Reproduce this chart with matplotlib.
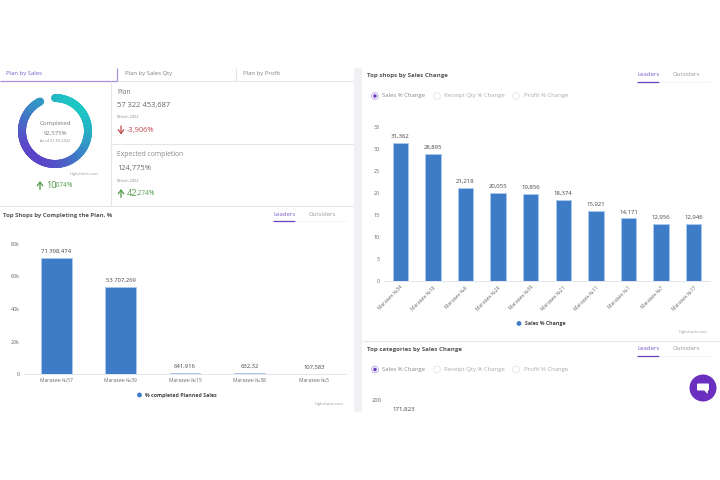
# -*- coding: utf-8 -*-
import numpy as np
import matplotlib.pyplot as plt
from matplotlib.collections import LineCollection
from matplotlib.patches import Circle, Polygon, Rectangle, FancyBboxPatch

plt.rcParams["font.family"] = ["Open Sans", "DejaVu Sans"]

BLUE = "#3e7cc8"
PURPLE = "#6b3fc0"
GREY = "#666666"
LIGHT = "#e6e6ea"

plan_shops = ["Магазин №57", "Магазин №39", "Магазин №15", "Магазин №38", "Магазин №5"]
plan_values = [71398.474, 53707.269, 641.916, 632.32, 107.583]
plan_labels = ["71 398,474", "53 707,269", "641,916", "632,32", "107,583"]
plan_ticks = [0, 20000, 40000, 60000, 80000]
plan_ticklabels = ["0", "20k", "40k", "60k", "80k"]

change_shops = ["Магазин №34", "Магазин №16", "Магазин №6", "Магазин №29", "Магазин №39",
                "Магазин №21", "Магазин №11", "Магазин №1", "Магазин №7", "Магазин №17"]
change_values = [31.362, 28.895, 21.218, 20.055, 19.856, 18.374, 15.921, 14.171, 12.956, 12.946]
change_labels = ["31,362", "28,895", "21,218", "20,055", "19,856", "18,374", "15,921", "14,171", "12,956", "12,946"]
change_ticks = [0, 5, 10, 15, 20, 25, 30, 35]

completed = 92.575
tabs = ["Plan by Sales", "Plan by Sales Qty", "Plan by Profit"]
radio_options = ["Sales % Change", "Receipt Qty % Change", "Profit % Change"]


def px_axes(fig, left, top, right, bottom):
    return fig.add_axes([left / 720, 1 - bottom / 480, (right - left) / 720, (bottom - top) / 480])


def bar_chart(ax, values, labels, ticks, ticklabels, cats, width, rotate, label_size):
    x = np.arange(len(values))
    ax.bar(x, values, width=width, color=BLUE, edgecolor="#a9c9ee", linewidth=0.6)
    ax.set_xlim(-0.5, len(values) - 0.5)
    ax.set_ylim(0, ticks[-1])
    ax.set_yticks(ticks)
    ax.set_yticklabels(ticklabels, fontsize=3.9, color=GREY)
    ax.set_xticks(x)
    if rotate:
        ax.set_xticklabels(cats, fontsize=3.5, color=GREY, rotation=45, ha="right", rotation_mode="anchor")
    else:
        ax.set_xticklabels(cats, fontsize=3.6, color=GREY)
    ax.tick_params(length=0, pad=3)
    for s in ["top", "left", "right"]:
        ax.spines[s].set_visible(False)
    ax.spines["bottom"].set_color(LIGHT)
    ax.spines["bottom"].set_linewidth(0.7)
    for xi, v, t in zip(x, values, labels):
        ax.annotate(t, (xi, v), xytext=(0, 3), textcoords="offset points", ha="center", va="bottom",
                    fontsize=label_size, color="#444444")


fig = plt.figure(figsize=(7.2, 4.8), dpi=100)

# page overlay in pixel coords
bg = fig.add_axes([0, 0, 1, 1])
bg.set_xlim(0, 720)
bg.set_ylim(480, 0)
bg.axis("off")


def hline(y, x0, x1, c=LIGHT, lw=0.8):
    bg.plot([x0, x1], [y, y], color=c, lw=lw, solid_capstyle="butt")


def vline(x, y0, y1, c=LIGHT, lw=0.8):
    bg.plot([x, x], [y0, y1], color=c, lw=lw, solid_capstyle="butt")


def txt(x, y, s, size=5, color=GREY, **kw):
    kw.setdefault("va", "center")
    bg.text(x, y, s, fontsize=size, color=color, **kw)


def arrow(x, y_from, y_to, color):
    bg.annotate("", (x, y_to), (x, y_from),
                arrowprops=dict(arrowstyle="->,head_width=0.22,head_length=0.3", color=color, lw=0.9,
                                shrinkA=0, shrinkB=0, mutation_scale=9))


bg.add_patch(Rectangle((354, 68), 8, 344, color="#f1f1f5", lw=0))

# tabs
for x, t, c in zip([6, 125, 243], tabs, ["#7a5cc8", "#808080", "#808080"]):
    txt(x, 73.5, t, 4.3, c)
hline(80.5, 117, 354)
hline(80.5, 0, 117, "#a78fdc", 0.9)
vline(117, 68, 80.5, "#a78fdc", 0.9)
vline(235.5, 68, 80.5)
vline(110.5, 81, 206)
hline(143.5, 110, 354)
hline(206, 0, 354)

# plan cards
txt(117, 92, "Plan", 4.9, "#777777")
txt(117, 105.5, "57 322 453,687", 5.4, "#666666")
txt(117, 117.5, "March 2022", 2.8, "#888888")
txt(127, 130.5, "-3,906%", 5.4, "#c0484f")
txt(117, 155, "Expected completion", 4.9, "#888888")
txt(117, 168.5, "124,775%", 5.4, "#666666")
txt(117, 180.5, "March 2022", 2.8, "#888888")
txt(127, 193, "42", 6.6, "#4f9a48")
txt(137, 193.4, ",274%", 4.7, "#4f9a48")
txt(46, 185, "10", 6.6, "#4f9a48")
txt(55, 185.4, ",074%", 4.7, "#4f9a48")
arrow(121, 126, 134.5, "#c0484f")
arrow(40, 189.5, 181, "#4f9a48")
arrow(121, 197.5, 189, "#4f9a48")

# donut, gradient runs from teal (upper right) to violet (lower left)
donut = px_axes(fig, 10, 86, 100, 176)
donut.set_xlim(-45, 45)
donut.set_ylim(-45, 45)
donut.axis("off")
donut.patch.set_alpha(0)
ang = np.radians(90 - np.linspace(0, completed, 181) * 3.6)
xs, ys = 33 * np.cos(ang), 33 * np.sin(ang)
pts = np.column_stack([xs, ys])
segs = np.stack([pts[:-1], pts[1:]], axis=1)
t = np.clip(((xs[:-1] + ys[:-1]) / (33 * 1.41) + 1) / 2, 0, 1)[:, None]
teal = np.array([0x1c, 0xc6, 0xc4]) / 255
violet = np.array([0x5c, 0x44, 0xc8]) / 255
donut.add_collection(LineCollection(segs, colors=t * teal + (1 - t) * violet, linewidths=5.8, capstyle="round"))
donut.text(0, 7.5, "Completed", fontsize=4.4, color="#777777", ha="center", va="center")
donut.text(0, -2, "92,575%", fontsize=4.3, color="#777777", ha="center", va="center")
donut.text(0, -10, "As of 21-03-2022", fontsize=2.8, color="#888888", ha="center", va="center")
txt(70, 173.5, "Highcharts.com", 2.8, "#999999")

# left chart panel
txt(3, 215.5, "Top Shops by Completing the Plan, %", 4.3, "#555555", fontweight="bold")
txt(273, 214.5, "Leaders", 4.3, "#7a5cc8")
txt(309, 214.5, "Outsiders", 4.3, "#999999")
hline(221, 273, 295, PURPLE, 0.9)
hline(221, 295, 347, "#f2f2f2", 0.6)
ax1 = px_axes(fig, 24, 244, 346, 374)
ax1.patch.set_alpha(0)
bar_chart(ax1, plan_values, plan_labels, plan_ticks, plan_ticklabels, plan_shops, 0.48, False, 4.2)
bg.add_patch(Circle((139.5, 395), 2.4, color=BLUE, lw=0))
txt(145, 395, "% completed Planned Sales", 3.8, "#444444", fontweight="bold")
txt(315, 403.5, "Highcharts.com", 2.8, "#999999")

# right chart panel
txt(367, 76, "Top shops by Sales Change", 4.4, "#555555", fontweight="bold")
txt(637, 74.5, "Leaders", 4.3, "#7a5cc8")
txt(673, 74.5, "Outsiders", 4.3, "#999999")
hline(81.5, 637, 659, PURPLE, 0.9)
hline(81.5, 659, 710, "#f2f2f2", 0.6)
ax2 = px_axes(fig, 384, 127, 710, 280.7)
ax2.patch.set_alpha(0)
bar_chart(ax2, change_values, change_labels, change_ticks, [str(v) for v in change_ticks],
          change_shops, 0.47, True, 4.3)
bg.add_patch(Circle((519, 323.5), 2.4, color=BLUE, lw=0))
txt(525, 323.5, "Sales % Change", 3.8, "#444444", fontweight="bold")
txt(679, 332, "Highcharts.com", 2.8, "#999999")


def radios(y):
    for i, (cx, tx, label) in enumerate(zip([375, 437, 516], [382, 444, 523.5], radio_options)):
        bg.add_patch(Circle((cx, y), 3.4, fc="white", ec="#b9a5e6" if i == 0 else "#e4e4e4", lw=0.6, zorder=3))
        if i == 0:
            bg.add_patch(Circle((cx, y), 1.8, color=PURPLE, lw=0, zorder=4))
        txt(tx, y, label, 4.3, "#888888" if i == 0 else "#aaaaaa")


radios(96)
hline(340.5, 362, 720)

# lower right panel
txt(367, 350, "Top categories by Sales Change", 4.4, "#555555", fontweight="bold")
txt(637, 348.5, "Leaders", 4.3, "#7a5cc8")
txt(673, 348.5, "Outsiders", 4.3, "#999999")
hline(355.5, 637, 659, PURPLE, 0.9)
hline(355.5, 659, 710, "#f2f2f2", 0.6)
radios(369.5)
txt(372, 401, "200", 4.2, GREY)
txt(404, 409, "171,823", 4.4, "#444444", ha="center")

# chat bubble
bg.add_patch(Circle((703, 388), 13.5, color="#6a2fc0", lw=0, zorder=5))
bg.add_patch(FancyBboxPatch((697, 383.5), 12, 7, boxstyle="round,pad=0,rounding_size=1", color="white", lw=0, zorder=6))
bg.add_patch(Polygon([[704, 390], [708, 390], [707.5, 394]], color="white", lw=0, zorder=6))

fig.savefig("out.png", dpi=100)
